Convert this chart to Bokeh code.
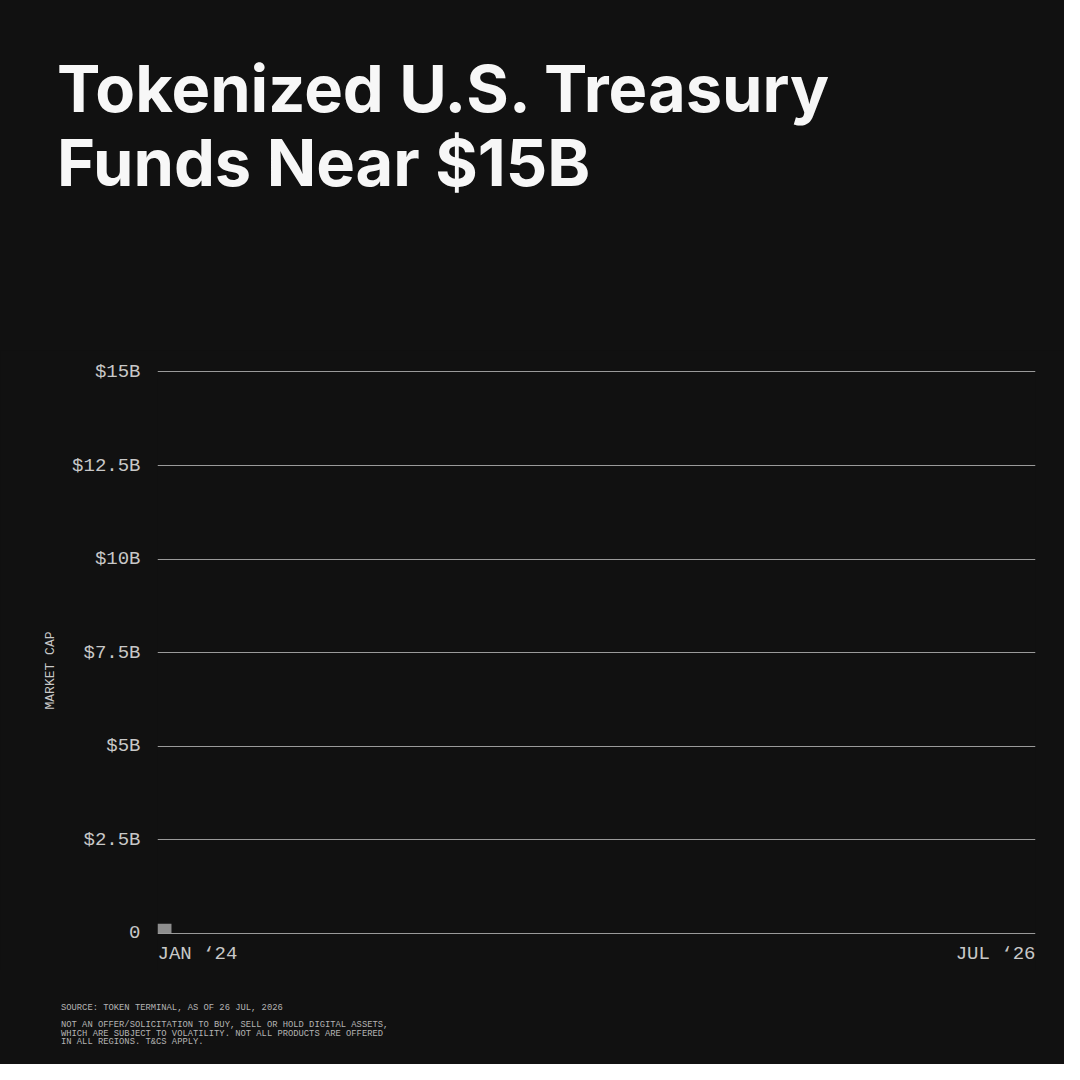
from bokeh.plotting import figure
from bokeh.layouts import column
from bokeh.models import Range1d, FixedTicker, Label, Div
from bokeh.embed import file_html
from bokeh.resources import INLINE

# ---- data ----
month_idx = [0]            # months since Jan 2024
market_cap_b = [0.25]      # $B
y_ticks = [0, 2.5, 5, 7.5, 10, 12.5, 15]
y_tick_labels = ["0", "$2.5B", "$5B", "$7.5B", "$10B", "$12.5B", "$15B"]
x_start_label = "JAN \u201824"
x_end_label = "JUL \u201826"
x_span_months = 30
title_lines = ["Tokenized U.S. Treasury", "Funds Near $15B"]
source_text = "SOURCE: TOKEN TERMINAL, AS OF 26 JUL, 2026"
disclaimer_lines = [
    "NOT AN OFFER/SOLICITATION TO BUY, SELL OR HOLD DIGITAL ASSETS,",
    "WHICH ARE SUBJECT TO VOLATILITY. NOT ALL PRODUCTS ARE OFFERED",
    "IN ALL REGIONS. T&CS APPLY.",
]

BG = "#111111"
MONO = "Liberation Mono"
BAR_W = 0.478
W = 1064

# ---- title block (HTML) ----
title_html = (
    '<div style="position:relative;width:%dpx;height:350px;margin:0;padding:0;">'
    '<div style="position:absolute;left:57px;top:52px;margin:0;padding:0;white-space:nowrap;'
    'font-family:Inter;font-weight:700;font-size:65px;line-height:74px;color:#f7f7f7;">%s</div>'
    '</div>' % (W, "<br>".join(title_lines))
)
top = Div(text=title_html, width=W, height=350,
          styles={"background-color": BG, "margin": "0", "padding": "0"})

# ---- main chart ----
p = figure(width=W, height=620, output_backend="svg", toolbar_location=None,
           x_range=Range1d(0, x_span_months), y_range=Range1d(-1.0, 15.04),
           x_axis_location=None, min_border_left=157, min_border_right=29,
           min_border_top=20, min_border_bottom=0,
           styles={"background-color": BG})
p.background_fill_color = BG
p.border_fill_color = BG
p.outline_line_color = None

p.xgrid.visible = False
p.ygrid.ticker = FixedTicker(ticks=y_ticks)
p.ygrid.grid_line_color = "#9a9a9a"
p.ygrid.grid_line_width = 1

ax = p.yaxis[0]
ax.ticker = FixedTicker(ticks=y_ticks)
ax.major_label_overrides = {t: l for t, l in zip(y_ticks, y_tick_labels)}
ax.axis_line_color = None
ax.major_tick_line_color = None
ax.major_tick_out = 0
ax.major_tick_in = 0
ax.minor_tick_line_color = None
ax.major_label_standoff = 17
ax.major_label_text_font = MONO
ax.major_label_text_font_size = "19px"
ax.major_label_text_color = "#c8c8c8"
ax.axis_label = "MARKET CAP"
ax.axis_label_text_font = MONO
ax.axis_label_text_font_size = "13px"
ax.axis_label_text_font_style = "normal"
ax.axis_label_text_color = "#c8c8c8"
ax.axis_label_standoff = 11

p.quad(left=month_idx, right=[m + BAR_W for m in month_idx], bottom=0, top=market_cap_b,
       fill_color="#8e8e8e", line_color=None)

p.add_layout(Label(x=0, y=17, x_units="data", y_units="screen", text=x_start_label,
                   text_align="left", text_baseline="middle", text_font=MONO,
                   text_font_size="19px", text_color="#c8c8c8"))
p.add_layout(Label(x=x_span_months, y=17, x_units="data", y_units="screen", text=x_end_label,
                   text_align="right", text_baseline="middle", text_font=MONO,
                   text_font_size="19px", text_color="#c8c8c8"))

# ---- footer (HTML) ----
foot_html = (
    '<div style="position:relative;width:%dpx;height:94px;margin:0;padding:0;'
    'font-family:\'Liberation Mono\';font-size:8.8px;color:#b4b4b4;white-space:nowrap;">'
    '<div style="position:absolute;left:61px;top:34px;line-height:9px;">%s</div>'
    '<div style="position:absolute;left:61px;top:51px;line-height:8.5px;">%s</div>'
    '</div>' % (W, source_text, "<br>".join(l.replace("&", "&amp;") for l in disclaimer_lines))
)
foot = Div(text=foot_html, width=W, height=94,
           styles={"background-color": BG, "margin": "0", "padding": "0"})

layout = column(top, p, foot, spacing=0, styles={"background-color": BG})
open("out.html", "w").write(file_html(layout, INLINE))
